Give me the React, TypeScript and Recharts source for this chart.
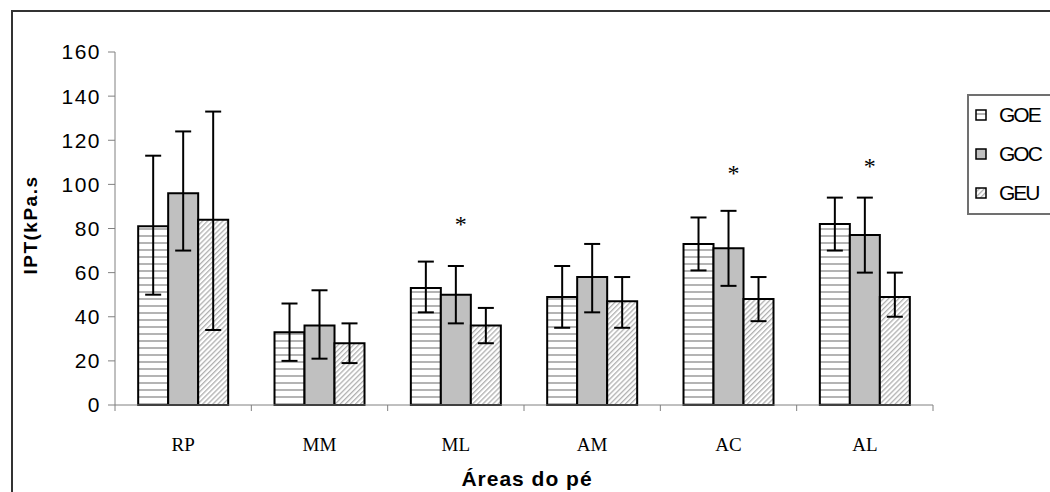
import React from 'react';
import { ComposedChart, Bar, Scatter, ErrorBar, XAxis, YAxis, Label } from 'recharts';

const categories = ['RP', 'MM', 'ML', 'AM', 'AC', 'AL'];
const seriesNames = ['GOE', 'GOC', 'GEU'];

const goe = [81, 33, 53, 49, 73, 82];
const goeLow = [50, 20, 42, 35, 61, 70];
const goeHigh = [113, 46, 65, 63, 85, 94];

const goc = [96, 36, 50, 58, 71, 77];
const gocLow = [70, 21, 37, 42, 54, 60];
const gocHigh = [124, 52, 63, 73, 88, 94];

const geu = [84, 28, 36, 47, 48, 49];
const geuLow = [34, 19, 28, 35, 38, 40];
const geuHigh = [133, 37, 44, 58, 58, 60];

// asterisks (significance) over the middle bar
const stars = [null, null, 84, null, 107, 110];

const yTicks = [0, 20, 40, 60, 80, 100, 120, 140, 160];

const fills = ['url(#pGOE)', '#c0c0c0', 'url(#pGEU)'];

const rows = categories.map((cat, i) => ({
  cat,
  goe: goe[i],
  goeErr: [goe[i] - goeLow[i], goeHigh[i] - goe[i]],
  goc: goc[i],
  gocErr: [goc[i] - gocLow[i], gocHigh[i] - goc[i]],
  geu: geu[i],
  geuErr: [geu[i] - geuLow[i], geuHigh[i] - geu[i]],
  star: stars[i],
}));

const AXIS = '#808080';
const SANS = "'Liberation Sans', Arial, sans-serif";

const CatTick = (props: any) => {
  const { x, y, payload, index } = props;
  const half = payload && payload.offset ? payload.offset : 68;
  return (
    <g>
      <line x1={x - half} x2={x - half} y1={y} y2={y + 6} stroke={AXIS} />
      {index === categories.length - 1 && (
        <line x1={x + half} x2={x + half} y1={y} y2={y + 6} stroke={AXIS} />
      )}
      <text x={x} y={y + 46} textAnchor="middle" fontFamily="'Liberation Serif', serif" fontSize={19} fill="#000">
        {payload.value}
      </text>
    </g>
  );
};

const StarShape = (props: any) => {
  const { cx, cy } = props;
  if (cy == null || isNaN(cy) || props.payload?.star == null) return null;
  return (
    <text x={cx + 5} y={cy + 12} textAnchor="middle" fontFamily="'Liberation Serif', serif" fontSize={24} fill="#000">
      *
    </text>
  );
};

const Swatch = ({ fill }: { fill: string }) => (
  <svg width={12} height={12} style={{ display: 'block' }}>
    <rect x={1} y={1} width={10} height={10} fill={fill} stroke="#000" strokeWidth={1.5} />
  </svg>
);

export default function App() {
  return (
    <div style={{ position: 'fixed', left: 0, top: 0, width: 1050, height: 492, overflow: 'hidden', background: '#fff' }}>
      <svg width={0} height={0} style={{ position: 'absolute' }}>
        <defs>
          <pattern id="pGOE" width={8} height={7} patternUnits="userSpaceOnUse">
            <rect width={8} height={7} fill="#fff" />
            <rect y={4} width={8} height={2} fill="#b4b4b4" />
          </pattern>
          <pattern id="pGEU" width={3.6} height={6} patternUnits="userSpaceOnUse" patternTransform="rotate(45)">
            <rect width={3.6} height={6} fill="#fff" />
            <rect width={1.3} height={6} fill="#b0b0b0" />
          </pattern>
        </defs>
      </svg>

      {/* outer frame */}
      <div style={{ position: 'absolute', left: 11, top: 10, width: 1100, height: 600, border: '2px solid #333' }} />

      <div style={{ position: 'absolute', left: 0, top: 0 }}>
        <ComposedChart
          width={1050}
          height={492}
          data={rows}
          margin={{ top: 52, right: 117, bottom: 47, left: 55 }}
          barGap={0}
          barCategoryGap="17%"
        >
          <XAxis
            dataKey="cat"
            height={40}
            axisLine={{ stroke: AXIS }}
            tickLine={false}
            tickSize={0}
            tickMargin={0}
            tick={<CatTick />}
            interval={0}
          >
            <Label
              content={() => (
                <text x={527} y={486} textAnchor="middle" fontFamily={SANS} fontWeight="bold" fontSize={21} letterSpacing={1} fill="#000">
                  Áreas do pé
                </text>
              )}
            />
          </XAxis>
          <YAxis
            width={60}
            domain={[0, 160]}
            ticks={yTicks}
            interval={0}
            axisLine={{ stroke: AXIS }}
            tickLine={{ stroke: AXIS }}
            tickSize={7}
            tickMargin={7}
            tick={{ fill: '#000', fontSize: 21, fontFamily: SANS, letterSpacing: 1.5 }}
          >
            <Label
              content={() => (
                <text x={37} y={225} transform="rotate(-90 37 225)" textAnchor="middle" fontFamily={SANS} fontWeight="bold" fontSize={19} letterSpacing={1.5} fill="#000">
                  IPT(kPa.s
                </text>
              )}
            />
          </YAxis>
          <Bar dataKey="goe" name="GOE" fill={fills[0]} stroke="#000" strokeWidth={2} isAnimationActive={false}>
            <ErrorBar dataKey="goeErr" direction="y" width={8} stroke="#000" strokeWidth={2} />
          </Bar>
          <Bar dataKey="goc" name="GOC" fill={fills[1]} stroke="#000" strokeWidth={2} isAnimationActive={false}>
            <ErrorBar dataKey="gocErr" direction="y" width={8} stroke="#000" strokeWidth={2} />
          </Bar>
          <Bar dataKey="geu" name="GEU" fill={fills[2]} stroke="#000" strokeWidth={2} isAnimationActive={false}>
            <ErrorBar dataKey="geuErr" direction="y" width={8} stroke="#000" strokeWidth={2} />
          </Bar>
          <Scatter dataKey="star" shape={<StarShape />} legendType="none" isAnimationActive={false} />
        </ComposedChart>
      </div>

      {/* legend */}
      <div style={{ position: 'absolute', left: 967, top: 94, width: 120, height: 117, border: '2px solid #707070', fontFamily: SANS }}>
        {seriesNames.map((name, i) => (
          <div key={name} style={{ position: 'absolute', left: 6, top: 8 + i * 39, height: 22, display: 'flex', alignItems: 'center' }}>
            <Swatch fill={fills[i]} />
            <span style={{ marginLeft: 12, fontSize: 21, letterSpacing: -2, color: '#000' }}>{name}</span>
          </div>
        ))}
      </div>
    </div>
  );
}
